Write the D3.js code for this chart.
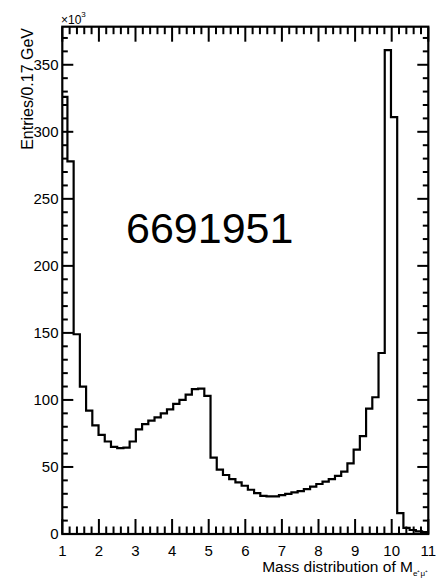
<!DOCTYPE html>
<html>
<head>
<meta charset="utf-8">
<script src="https://cdn.jsdelivr.net/npm/d3@7"></script>
<style>
  html, body { margin: 0; padding: 0; background: #fff; }
  svg { display: block; }
  text { font-family: "Liberation Sans", Arial, Helvetica, sans-serif; fill: #000; }
</style>
</head>
<body>
<svg id="chart" width="436" height="579"></svg>
<script>
// Histogram of e+mu+ invariant mass, 0.17 GeV bins (counts in thousands)
const binLow = 0.97;          // low edge of the first drawn bin
const binWidth = 0.17;
const counts = [
  326, 278, 149, 110, 92, 81, 74, 69, 65, 64,
  64.5, 69, 78, 82, 84.5, 87, 90, 93, 97, 100,
  104, 108, 108.5, 103, 57, 48, 44, 41, 38.5, 36,
  33, 30.5, 28.5, 28, 28, 29, 30, 31, 32, 33.5,
  35.3, 37.3, 39, 41, 43.3, 46.5, 52.7, 63, 73, 93.5,
  102, 135, 361, 311, 15.5, 4.5, 3, 2, 1.5
];
const xMajorTicks = [1, 2, 3, 4, 5, 6, 7, 8, 9, 10, 11];
const yMajorTicks = [0, 50, 100, 150, 200, 250, 300, 350];
const entriesLabel = "6691951";

const svg = d3.select("#chart");
const L = 62.3, R = 428.3, T = 26.7, B = 534;

const x = d3.scaleLinear().domain([1, 11]).range([L, R]);
const y = d3.scaleLinear().domain([0, 378.4]).range([B, T]);

// clip region equal to the frame
svg.append("defs").append("clipPath").attr("id", "plotClip")
  .append("rect").attr("x", L).attr("y", T).attr("width", R - L).attr("height", B - T);

// step outline of the histogram
const steps = [];
counts.forEach((c, i) => {
  const lo = binLow + i * binWidth, hi = lo + binWidth;
  steps.push([lo, c], [hi, c]);
});
const path = d3.path();
path.moveTo(x(binLow), y(0));
steps.forEach(([vx, vy]) => path.lineTo(x(vx), y(vy)));
path.lineTo(x(binLow + counts.length * binWidth), y(0));

svg.append("path")
  .attr("d", path.toString())
  .attr("clip-path", "url(#plotClip)")
  .attr("fill", "none")
  .attr("stroke", "#000")
  .attr("stroke-width", 2.2)
  .attr("stroke-linejoin", "miter");

// ticks on all four sides, pointing inward
const tickG = svg.append("g").attr("stroke", "#000").attr("stroke-width", 2);
const xMinor = d3.range(1, 11.001, 0.2).map(v => +v.toFixed(2));
xMinor.forEach(v => {
  const major = Math.abs(v - Math.round(v)) < 1e-6;
  const len = major ? 15 : 7.5;
  tickG.append("line").attr("x1", x(v)).attr("x2", x(v)).attr("y1", B).attr("y2", B - len);
  tickG.append("line").attr("x1", x(v)).attr("x2", x(v)).attr("y1", T).attr("y2", T + len);
});
const yMinor = d3.range(0, 378, 10);
yMinor.forEach(v => {
  const major = v % 50 === 0;
  const len = major ? 11 : 5.5;
  tickG.append("line").attr("x1", L).attr("x2", L + len).attr("y1", y(v)).attr("y2", y(v));
  tickG.append("line").attr("x1", R).attr("x2", R - len).attr("y1", y(v)).attr("y2", y(v));
});

// frame
svg.append("rect")
  .attr("x", L).attr("y", T).attr("width", R - L).attr("height", B - T)
  .attr("fill", "none").attr("stroke", "#000").attr("stroke-width", 2.2);

// tick labels
svg.append("g").selectAll("text").data(xMajorTicks).join("text")
  .attr("x", d => x(d)).attr("y", 555.5)
  .attr("text-anchor", "middle").attr("font-size", 15)
  .text(d => d);
svg.append("g").selectAll("text").data(yMajorTicks).join("text")
  .attr("x", 58.5).attr("y", d => y(d) + 5.3)
  .attr("text-anchor", "end").attr("font-size", 15)
  .text(d => d);

// exponent marker
const ex = svg.append("text").attr("x", 61).attr("y", 23.5).attr("font-size", 12);
ex.append("tspan").text("\u00d710");
ex.append("tspan").attr("font-size", 8).attr("dy", -7).text("3");

// axis titles
svg.append("text")
  .attr("transform", `translate(32.5,28) rotate(-90)`)
  .attr("text-anchor", "end").attr("font-size", 16)
  .text("Entries/0.17 GeV");

const xt = svg.append("text").attr("x", 428).attr("y", 572).attr("text-anchor", "end").attr("font-size", 15.5);
xt.append("tspan").text("Mass distribution of M");
xt.append("tspan").attr("font-size", 8).attr("dy", 4).text("e\u207a\u03bc\u207a");

// total entries
svg.append("text")
  .attr("x", 126).attr("y", 243)
  .attr("font-family", "'Open Sans', 'Noto Sans', sans-serif")
  .attr("font-size", 43)
  .text(entriesLabel);
</script>
</body>
</html>
